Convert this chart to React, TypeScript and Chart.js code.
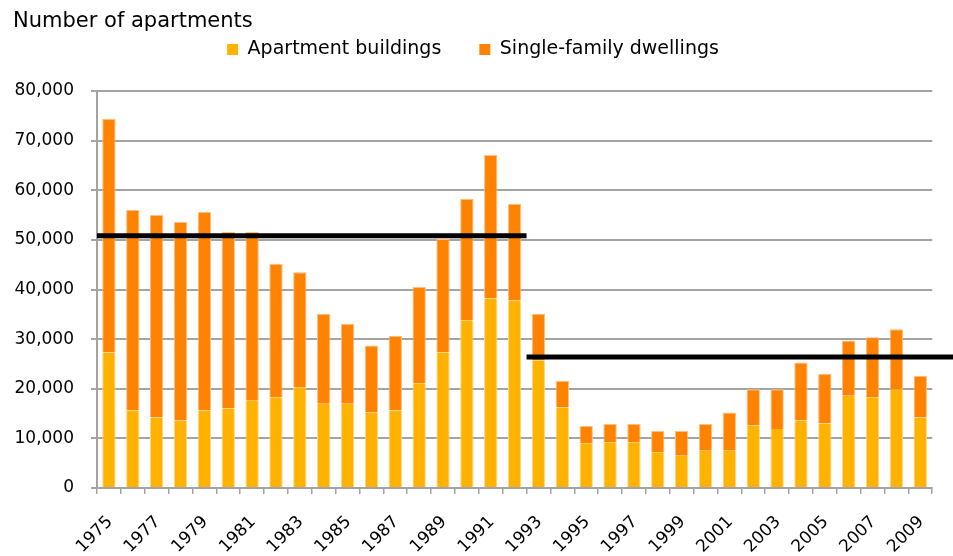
import React, { useEffect, useRef } from 'react';
import { Chart, registerables } from 'chart.js';

Chart.register(...registerables);

const years = [
  '1975', '1976', '1977', '1978', '1979', '1980', '1981', '1982', '1983', '1984',
  '1985', '1986', '1987', '1988', '1989', '1990', '1991', '1992', '1993', '1994',
  '1995', '1996', '1997', '1998', '1999', '2000', '2001', '2002', '2003', '2004',
  '2005', '2006', '2007', '2008', '2009',
];

const apartmentBuildings = [
  27300, 15600, 14200, 13600, 15600, 16000, 17600, 18300, 20300, 17000,
  17000, 15200, 15600, 21100, 27300, 33800, 38200, 37800, 25700, 16200,
  9000, 9200, 9200, 7200, 6500, 7500, 7500, 12600, 11900, 13600,
  13000, 18600, 18300, 19900, 14200,
];

const singleFamilyDwellings = [
  47100, 40400, 40800, 40000, 40000, 35600, 34000, 26900, 23200, 18100,
  16100, 13500, 15100, 19400, 22900, 24500, 28900, 19500, 9400, 5400,
  3500, 3700, 3700, 4300, 5000, 5400, 7700, 7300, 8000, 11700,
  10000, 11100, 12100, 12100, 8400,
];

const averageValues = [50850, 26400];
const averageFrom = ['1975', '1993'];
const averageTo = ['1992', '2009'];

const seriesLabels = ['Apartment buildings', 'Single-family dwellings'];
const titleText = 'Number of apartments';

const FONT = '"DejaVu Sans", sans-serif';
const GRID = '#a3a3a3';

export default function App() {
  const ref = useRef<HTMLCanvasElement>(null);

  useEffect(() => {
    const canvas = ref.current;
    if (!canvas) return;

    const titlePlugin = {
      id: 'titleText',
      afterDraw(chart: any) {
        const ctx = chart.ctx;
        ctx.save();
        ctx.font = `21px ${FONT}`;
        ctx.fillStyle = '#000';
        ctx.textAlign = 'left';
        ctx.textBaseline = 'alphabetic';
        ctx.fillText(titleText, 13, 27);
        ctx.restore();
      },
    };

    const legendSpace = {
      id: 'legendSpace',
      beforeLayout(chart: any) {
        const lg = chart.legend;
        if (lg && !lg._spacePatched) {
          const fit = lg.fit;
          lg.fit = function () {
            fit.call(this);
            this.height += 22;
          };
          lg._spacePatched = true;
        }
      },
    };

    const averageLines = {
      id: 'averageLines',
      afterDatasetsDraw(chart: any) {
        const xs = chart.scales.x;
        const ys = chart.scales.y;
        const ctx = chart.ctx;
        const half = (xs.getPixelForValue(1) - xs.getPixelForValue(0)) / 2;
        ctx.save();
        ctx.strokeStyle = '#000';
        ctx.lineWidth = 5;
        ctx.lineCap = 'butt';
        averageValues.forEach((v, i) => {
          const i0 = years.indexOf(averageFrom[i]);
          const i1 = years.indexOf(averageTo[i]);
          const left = xs.getPixelForValue(i0) - half;
          let right = xs.getPixelForValue(i1) + half;
          if (i === averageValues.length - 1) right = chart.width;
          const py = ys.getPixelForValue(v);
          ctx.beginPath();
          ctx.moveTo(left, py);
          ctx.lineTo(right, py);
          ctx.stroke();
        });
        ctx.restore();
      },
    };

    const chart = new Chart(canvas, {
      type: 'bar',
      data: {
        labels: years,
        datasets: [
          {
            label: seriesLabels[0],
            data: apartmentBuildings,
            backgroundColor: '#FFB300',
            borderColor: '#FFD58A',
            borderWidth: { left: 1, right: 1, top: 0, bottom: 0 },
            borderSkipped: false,
            barPercentage: 0.56,
            categoryPercentage: 1,
          },
          {
            label: seriesLabels[1],
            data: singleFamilyDwellings,
            backgroundColor: '#FF8300',
            borderColor: '#FFBE82',
            borderWidth: { left: 1, right: 1, top: 1, bottom: 0 },
            borderSkipped: false,
            barPercentage: 0.56,
            categoryPercentage: 1,
          },
        ],
      },
      options: {
        animation: false,
        responsive: true,
        maintainAspectRatio: false,
        layout: { padding: { left: 13, right: 20, top: 2, bottom: 0 } },
        plugins: {
          title: { display: false },
          tooltip: { enabled: false },
          legend: {
            display: true,
            position: 'top',
            align: 'center',
            labels: {
              boxWidth: 11,
              boxHeight: 11,
              padding: 38,
              color: '#000',
              font: { family: FONT, size: 19 },
              generateLabels: (chart: any) =>
                chart.data.datasets.map((ds: any, i: number) => ({
                  text: ds.label,
                  fillStyle: ds.backgroundColor,
                  strokeStyle: ds.backgroundColor,
                  lineWidth: 0,
                  hidden: false,
                  datasetIndex: i,
                })),
            },
          },
        },
        scales: {
          x: {
            stacked: true,
            afterFit: (scale: any) => {
              scale.height = 68;
            },
            grid: {
              display: true,
              drawOnChartArea: false,
              drawTicks: true,
              tickLength: 6,
              color: GRID,
              lineWidth: 1.5,
              offset: true,
            },
            border: { display: true, color: GRID, width: 2 },
            ticks: {
              autoSkip: false,
              maxRotation: 45,
              minRotation: 45,
              padding: 18,
              labelOffset: 1,
              color: '#000',
              font: { family: FONT, size: 17 },
              callback: (_v: any, idx: number) => (idx % 2 === 0 ? years[idx] : ''),
            },
          },
          y: {
            stacked: true,
            min: 0,
            max: 80000,
            afterFit: (scale: any) => {
              scale.width = 84;
            },
            grid: {
              display: true,
              color: GRID,
              lineWidth: 2,
              drawTicks: true,
              tickLength: 6,
            },
            border: { display: true, color: GRID, width: 2 },
            ticks: {
              stepSize: 10000,
              padding: 17,
              color: '#000',
              font: { family: FONT, size: 17 },
              callback: (v: any) => Number(v).toLocaleString('en-US'),
            },
          },
        },
      },
      plugins: [titlePlugin, legendSpace, averageLines],
    });

    return () => {
      chart.destroy();
    };
  }, []);

  return (
    <div style={{ position: 'fixed', left: 0, top: 0, width: 953, height: 556, background: '#fff' }}>
      <canvas ref={ref} />
    </div>
  );
}
